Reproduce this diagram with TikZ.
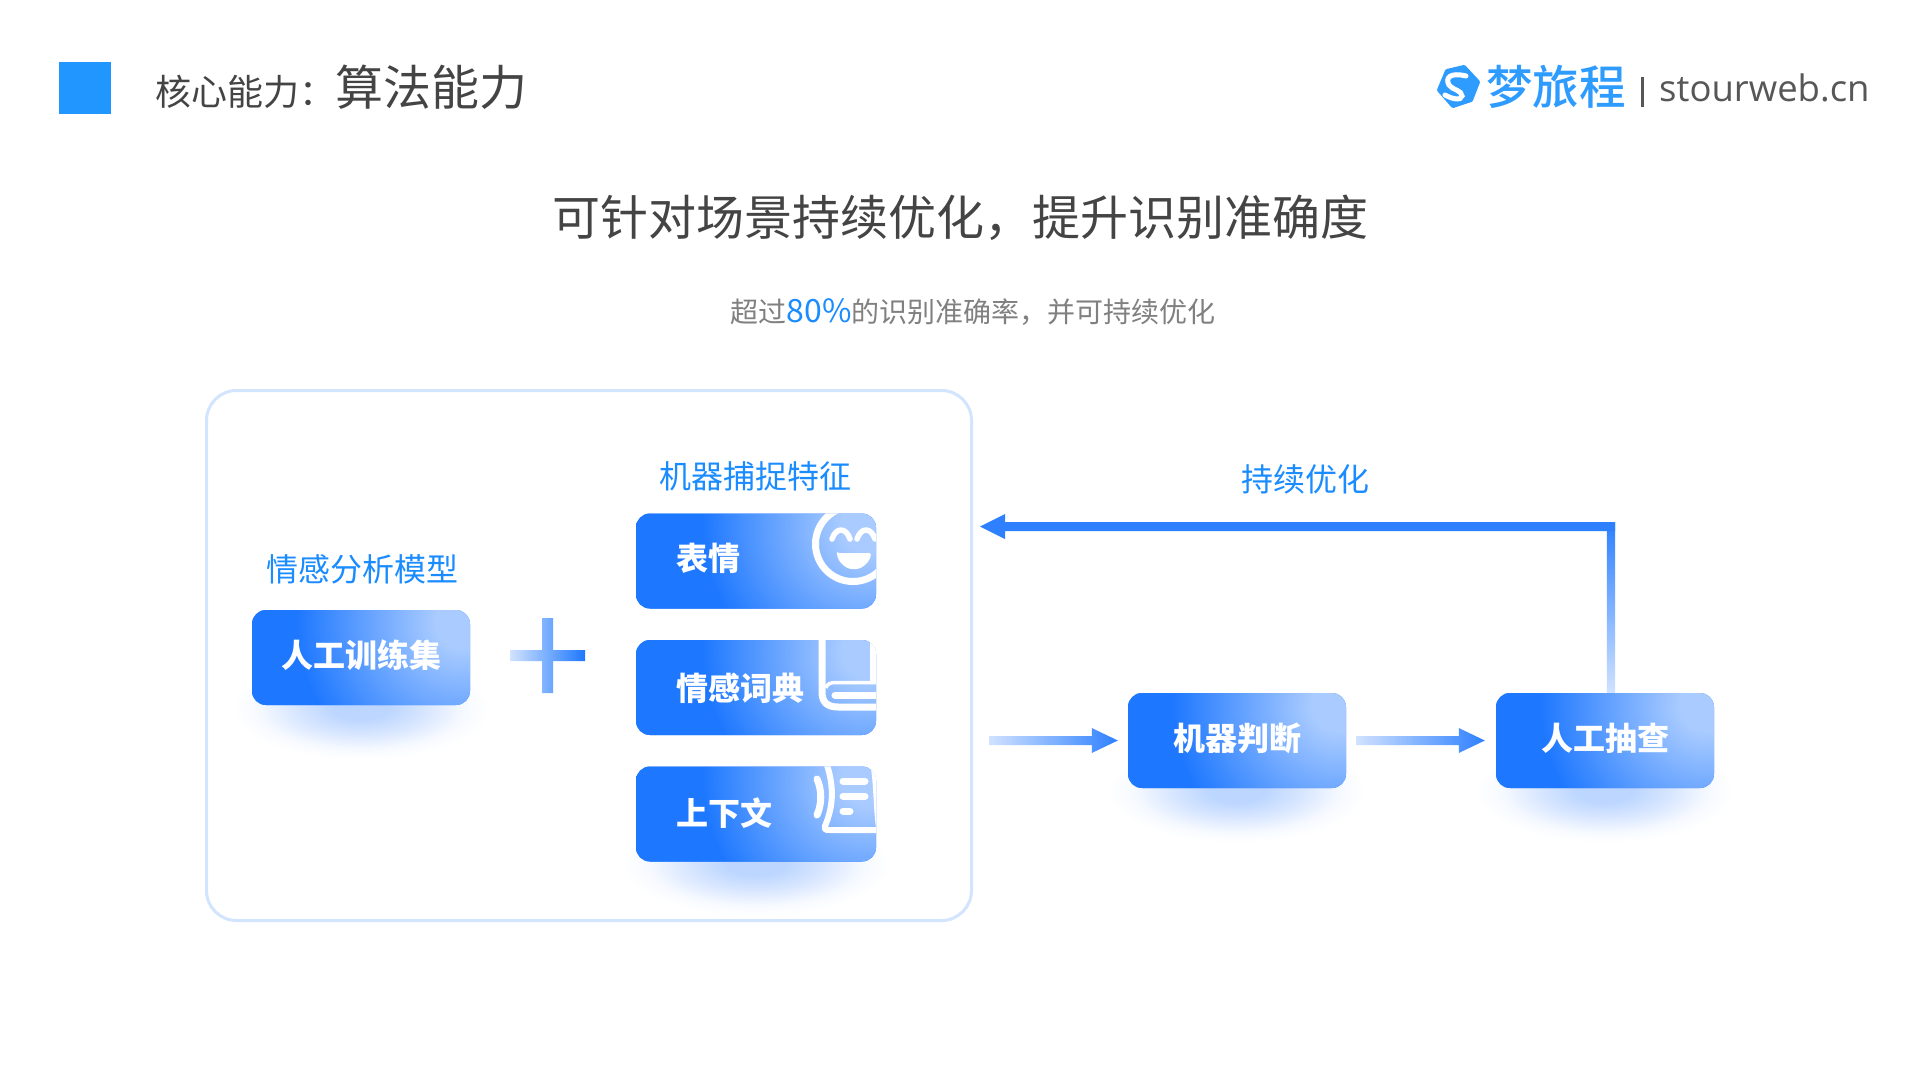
\documentclass[tikz,border=0pt]{standalone}
\usepackage{fontspec}
\setmainfont{Noto Sans CJK SC}
\newfontfamily\latinfont{Open Sans}
\newfontfamily\logofont{Noto Sans CJK SC Medium}
\usetikzlibrary{calc}
\definecolor{boxblue}{HTML}{1E78FF}
\definecolor{boxlight}{HTML}{A9CBFF}
\definecolor{arrowblue}{HTML}{2E80FF}
\definecolor{arrowlight}{HTML}{D0E2FF}
\definecolor{labelblue}{HTML}{1A8CFF}
\definecolor{logoblue}{HTML}{2E9BFF}
\definecolor{squareblue}{HTML}{2196FF}
\definecolor{titlegray}{HTML}{444444}
\definecolor{subgray}{HTML}{808080}
\definecolor{framecol}{HTML}{D3E4FF}
\definecolor{shadowcol}{HTML}{BCD6FF}
\definecolor{shadowmid}{HTML}{DEEAFF}
\definecolor{shadowpale}{HTML}{F5F9FF}
\pgfdeclareradialshading{boxrad}{\pgfpointorigin}{color(0bp)=(boxlight); color(2bp)=(boxlight); color(12.5bp)=(boxblue); color(50bp)=(boxblue)}
\pgfdeclareradialshading{shadowrad}{\pgfpointorigin}{color(0bp)=(shadowcol); color(3bp)=(shadowcol); color(8bp)=(shadowmid); color(11bp)=(shadowpale); color(14bp)=(white); color(50bp)=(white)}
\newcommand{\liftup}[2]{\raisebox{0pt}[\height][\dimexpr\depth+#1*2\relax]{#2}}
\tikzset{
  gradbox/.style={rounded corners=14pt, fill=boxblue, text=white, font=\fontsize{32}{38}\selectfont\bfseries,
    inner sep=0pt, path picture={\shade[shading=boxrad]
      ([shift={(-8pt,-12pt)}]path picture bounding box.north east) circle (330pt);}},
  widebox/.style={gradbox, minimum width=218pt, minimum height=95pt, align=center},
  featbox/.style={gradbox, minimum width=240pt, minimum height=95pt, text width=160pt, inner xsep=40pt, align=left},
  bluelabel/.style={text=labelblue, font=\fontsize{32}{38}\selectfont, inner sep=0pt},
  icon/.style={draw=white, line width=7pt, line cap=round, line join=round},
  softshadow/.style={shading=shadowrad},
}
% tail, tip
\newcommand{\gradarrow}[2]{%
  \shade[left color=arrowlight, right color=arrowblue]
    ($(#1)+(0,-4.5)$) -- ($(#2)+(-26,-4.5)$) -- ($(#2)+(-26,-12.5)$) -- (#2)
    -- ($(#2)+(-26,12.5)$) -- ($(#2)+(-26,4.5)$) -- ($(#1)+(0,4.5)$) -- cycle;}
\begin{document}
\begin{tikzpicture}[x=1pt,y=-1pt]
\useasboundingbox (0,0) rectangle (1920,1080);
\fill[white] (0,0) rectangle (1920,1080);

% header
\fill[squareblue] (59,62) rectangle (111,114);
\node[anchor=west, inner sep=0pt, text=titlegray, font=\fontsize{36}{42}\selectfont] (head1) at (155,91.5) {核心能力：};
\node[anchor=west, inner sep=0pt, text=titlegray, font=\fontsize{48}{56}\selectfont] (head2) at (335,87.5) {算法能力};

% logo
\fill[logoblue, draw=logoblue, line width=4pt, line join=round]
  (1439,90) -- (1447,71) -- (1464,67) -- (1478,82) -- (1471,100) -- (1453,106) -- cycle;
\draw[white, line width=5pt, line cap=round]
  (1466,76) .. controls (1450,72) and (1445,78) .. (1449,85)
  .. controls (1452,90) and (1462,90) .. (1462,96)
  .. controls (1461,101) and (1452,99) .. (1445,95);
\node[anchor=west, inner sep=0pt, text=logoblue, font=\logofont\fontsize{46.5}{54}\selectfont] (logotext) at (1486,87) {梦旅程};
\fill[titlegray!90] (1640.5,77) rectangle (1643.5,107);
\node[anchor=west, inner sep=0pt, text=titlegray!90, font=\latinfont\fontsize{36.5}{44}\selectfont] (site) at (1659,88) {stourweb.cn};

% headings
\node[inner sep=0pt, text=titlegray, font=\fontsize{48}{56}\selectfont] (title) at (960.5,218) {可针对场景持续优化，提升识别准确度};
\node[inner sep=0pt, text=subgray, font=\fontsize{28}{34}\selectfont] (sub) at (973,312)
  {超过{\color{labelblue}\fontsize{32}{34}\selectfont 80\%}的识别准确率，并可持续优化};

% shadows
\shade[softshadow] (361,708) circle[x radius=230pt, y radius=92pt];
\shade[softshadow] (756,864) circle[x radius=240pt, y radius=92pt];
\shade[softshadow] (1237,791) circle[x radius=230pt, y radius=92pt];
\shade[softshadow] (1605,791) circle[x radius=230pt, y radius=92pt];

% container
\node[draw=framecol, line width=3pt, rounded corners=30pt, minimum width=765pt, minimum height=530pt, inner sep=0pt] (frame) at (589,655.5) {};

% labels
\node[bluelabel] (lmodel) at (362,569) {情感分析模型};
\node[bluelabel] (lfeat) at (755,476) {机器捕捉特征};
\node[bluelabel] (lopt) at (1305,479.5) {持续优化};

% boxes
\node[widebox] (train) at (361,657.5) {\liftup{2.5pt}{人工训练集}};
\node[featbox] (emo) at (756,561) {\liftup{2.5pt}{表情}};
\node[featbox] (dict) at (756,687.5) {\raisebox{0pt}[\dimexpr\height+2pt\relax]{情感词典}};
\node[featbox] (ctx) at (756,814) {\liftup{1pt}{上下文}};
\node[widebox] (judge) at (1237,740.5) {\liftup{2.5pt}{机器判断}};
\node[widebox] (check) at (1605,740.5) {\liftup{2.5pt}{人工抽查}};

% plus
\shade[left color=arrowlight, middle color=boxlight, right color=boxblue]
  (510,650) -- (542,650) -- (542,618) -- (553,618) -- (553,650) -- (585,650) -- (585,661)
  -- (553,661) -- (553,693) -- (542,693) -- (542,661) -- (510,661) -- cycle;

% icon: face
\begin{scope}
\clip[rounded corners=14pt] (emo.south west) rectangle (emo.north east);
\draw[icon] (853,544) circle (37.5pt);
\draw[icon, line width=5.5pt] (832,539) .. controls (836,527) and (846,527) .. (850,539);
\draw[icon, line width=5.5pt] (857,539) .. controls (861,527) and (871,527) .. (875,539);
\fill[white, rounded corners=2pt] (837,553) -- (871,553) .. controls (870,562) and (862,569) .. (854,569) .. controls (846,569) and (838,562) .. (837,553) -- cycle;
\end{scope}

% icon: book
\begin{scope}
\clip[rounded corners=14pt] (dict.south west) rectangle (dict.north east);
\draw[draw=white, line width=7pt] (822,636) -- (822,692) .. controls (822,702) and (827,707) .. (838,707) -- (880,707);
\draw[draw=white, line width=3.5pt] (826,688) .. controls (827,684) and (830,682.5) .. (836,682.5) -- (880,682.5);
\fill[white] (870,636) rectangle (880,684);
\draw[icon] (835,695) -- (880,695);
\end{scope}

% icon: scroll
\begin{scope}
\clip[rounded corners=14pt] (ctx.south west) rectangle (ctx.north east);
\draw[icon] (817,779) .. controls (822,790) and (822,804) .. (817,815);
\draw[draw=white, line width=6pt, line join=round] (826,762) .. controls (834,785) and (834,805) .. (825,826) .. controls (824,830) and (826,830) .. (830,830) -- (880,830);
\draw[icon] (843,781) -- (865,781);
\draw[icon] (843,796) -- (865,796);
\draw[icon] (843,811) -- (850,811);
\fill[white] (870,762) .. controls (874,785) and (873,805) .. (876,828) -- (885,828) -- (885,762) -- cycle;
\end{scope}

% connectors
\coordinate (tail1) at ($(frame.east)+(16,85)$);
\coordinate (tip1) at ($(judge.west)+(-10,0)$);
\coordinate (tail2) at ($(judge.east)+(10,0)$);
\coordinate (tip2) at ($(check.west)+(-11,0)$);
\gradarrow{tail1|-tip1}{tip1}
\gradarrow{tail2}{tip2}

% feedback arrow
\coordinate (fbbottom) at ($(check.north)+(6,0)$);
\coordinate (fbtip) at (980,526.5);
\shade[top color=arrowblue, bottom color=arrowlight]
  ($(fbbottom|-fbtip)+(-4.2,-4.5)$) rectangle ($(fbbottom)+(4.2,0)$);
\fill[arrowblue] ($(fbbottom|-fbtip)+(4.2,-4.5)$) -- (1005,522) -- (1005,514) -- (fbtip) -- (1005,539) -- (1005,531)
  -- ($(fbbottom|-fbtip)+(-4.2,4.5)$) -- ($(fbbottom|-fbtip)+(4.2,4.5)$) -- cycle;
\end{tikzpicture}
\end{document}
